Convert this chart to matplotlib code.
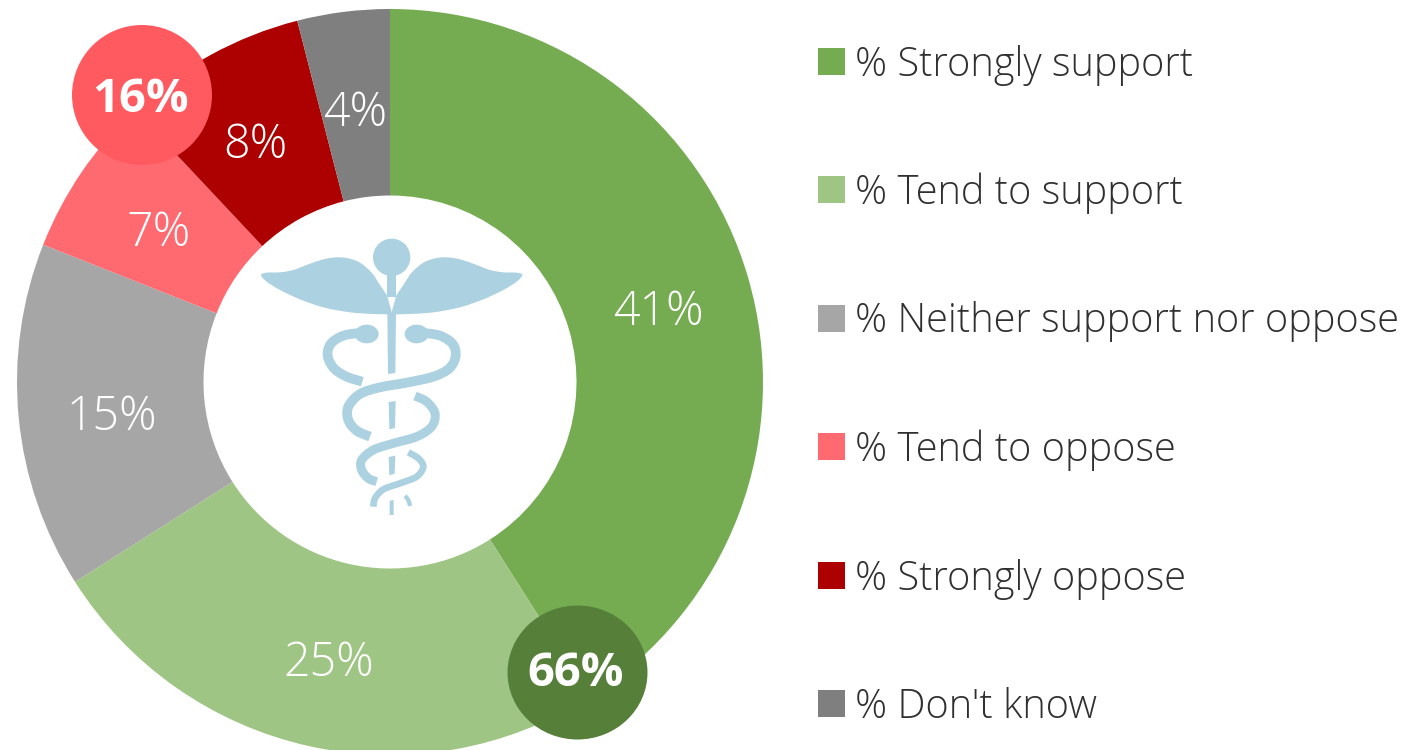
import numpy as np
import matplotlib
matplotlib.use('Agg')
import matplotlib.pyplot as plt
from matplotlib.patches import Circle, Ellipse, PathPatch, Rectangle
from matplotlib.path import Path

categories = ['% Strongly support', '% Tend to support', '% Neither support nor oppose',
              '% Tend to oppose', '% Strongly oppose', "% Don't know"]
values = [41, 25, 15, 7, 8, 4]
colors = ['#75AC52', '#9FC584', '#A6A6A6', '#FF6A70', '#AD0000', '#7F7F7F']
net_labels = ['16%', '66%']
net_colors = ['#FF5A5F', '#567F3A']

W, H = 1409, 750
ICON = '#ACD1E0'
LIGHT = dict(family=['Open Sans', 'DejaVu Sans'], weight='light')
BOLD = dict(family=['Open Sans', 'DejaVu Sans'], weight='bold')

fig = plt.figure(figsize=(W / 100, H / 100), dpi=100)
ax = fig.add_axes([0, 0, 1, 1])


def py(y):
    # picture pixels count from the top
    return H - y


# donut
wedges, _, pcts = ax.pie(values, colors=colors, startangle=90, counterclock=False,
                         center=(390, py(382)), radius=373, autopct='%d%%', pctdistance=0.75,
                         wedgeprops=dict(width=186.5, linewidth=0),
                         textprops=dict(color='white', fontsize=33.5, **LIGHT))
for t in pcts:
    x, y = t.get_position()
    t.set_position((x, y - 9))
ax.set_xlim(0, W)
ax.set_ylim(0, H)
ax.set_aspect('equal')
ax.axis('off')

# net bubbles
for (cx, cy, w, h, ty), txt, col in zip([(142, 95, 140, 140, 99), (577.5, 672.5, 140, 134, 674)], net_labels, net_colors):
    ax.add_patch(Ellipse((cx, py(cy)), w, h, color=col, lw=0, zorder=4))
    ax.text(cx - 1.5, py(ty), txt, color='white', fontsize=34, ha='center', va='center', zorder=5, **BOLD)

# legend
rows = [61, 189, 318, 446, 575, 703]
for y, name, col in zip(rows, categories, colors):
    ax.add_patch(Rectangle((818, py(y + 13.5)), 27, 27, color=col, lw=0))
    ax.text(855, py(y + 4), name, color='#303030', fontsize=28.6, ha='left', va='center', **LIGHT)


# caduceus, coordinates taken from a 3x crop starting at (240, 220)
def zx(x):
    return 240 + x / 3


def zy(y):
    return py(220 + y / 3)


def blob(verts):
    pts = [(zx(x), zy(y)) for x, y in verts]
    ax.add_patch(PathPatch(Path(pts, closed=False), fc=ICON, ec='none', zorder=3))


def curve(points):
    # catmull-rom through the points
    p = np.array([(zx(x), zy(y)) for x, y in points], float)
    p = np.vstack([p[0], p, p[-1]])
    verts, codes = [tuple(p[1])], [Path.MOVETO]
    for i in range(1, len(p) - 2):
        c1 = p[i] + (p[i + 1] - p[i - 1]) / 6
        c2 = p[i + 1] - (p[i + 2] - p[i]) / 6
        verts += [tuple(c1), tuple(c2), tuple(p[i + 1])]
        codes += [Path.CURVE4] * 3
    return verts, codes


def smooth(points, width):
    verts, codes = curve(points)
    ax.add_patch(PathPatch(Path(verts, codes), fc='none', ec=ICON, lw=width / 3 * 0.72,
                           capstyle='butt', joinstyle='round', zorder=3))


def wing(points):
    verts, codes = curve(points)
    verts.append(verts[0])
    codes.append(Path.LINETO)
    ax.add_patch(PathPatch(Path(verts, codes), fc=ICON, ec='none', zorder=3))


CX = 455
left_wing = [(441, 226), (420, 195), (395, 158), (360, 128), (325, 115), (290, 112), (250, 118),
             (205, 133), (160, 150), (120, 157), (80, 158), (63, 165), (80, 185), (120, 210),
             (180, 238), (250, 262), (330, 277), (400, 282), (457, 283)]
right_wing = [(2 * CX - x, y) for x, y in left_wing]
wing(left_wing)
wing(right_wing)

ax.add_patch(Circle((zx(CX), zy(112)), 56 / 3, color=ICON, lw=0, zorder=3))
blob([(441, 150), (469, 150), (469, 230), (441, 230)])
blob([(442, 278), (468, 278), (466, 459), (444, 462)])
blob([(446, 546), (467, 543), (465, 624), (448, 628)])
blob([(446, 711), (466, 707), (464, 761), (448, 766)])
blob([(449, 842), (461, 840), (461, 885), (449, 885)])

# heads
for hx in [380, 530]:
    theta = np.deg2rad(np.arange(0, 360, 10))
    blob([(hx + 36 * np.cos(t), 342 + 28 * np.sin(t)) for t in theta])

smooth([(365, 338), (310, 347), (272, 372), (263, 408), (282, 445), (320, 470), (367, 485)], 29)
smooth([(545, 338), (600, 347), (638, 372), (647, 408), (628, 445), (580, 470), (500, 488),
        (420, 502), (360, 522), (325, 560), (325, 600), (350, 632), (390, 650)], 29)
smooth([(525, 528), (560, 545), (585, 580), (575, 620), (530, 650), (460, 670), (400, 690),
        (365, 720), (365, 750), (385, 775), (410, 785)], 27)
smooth([(505, 697), (535, 715), (550, 740), (530, 770), (480, 790), (430, 808), (405, 835), (400, 860)], 20)
smooth([(495, 828), (505, 840), (510, 858)], 13)

fig.savefig('out.png', dpi=100, facecolor='white')
